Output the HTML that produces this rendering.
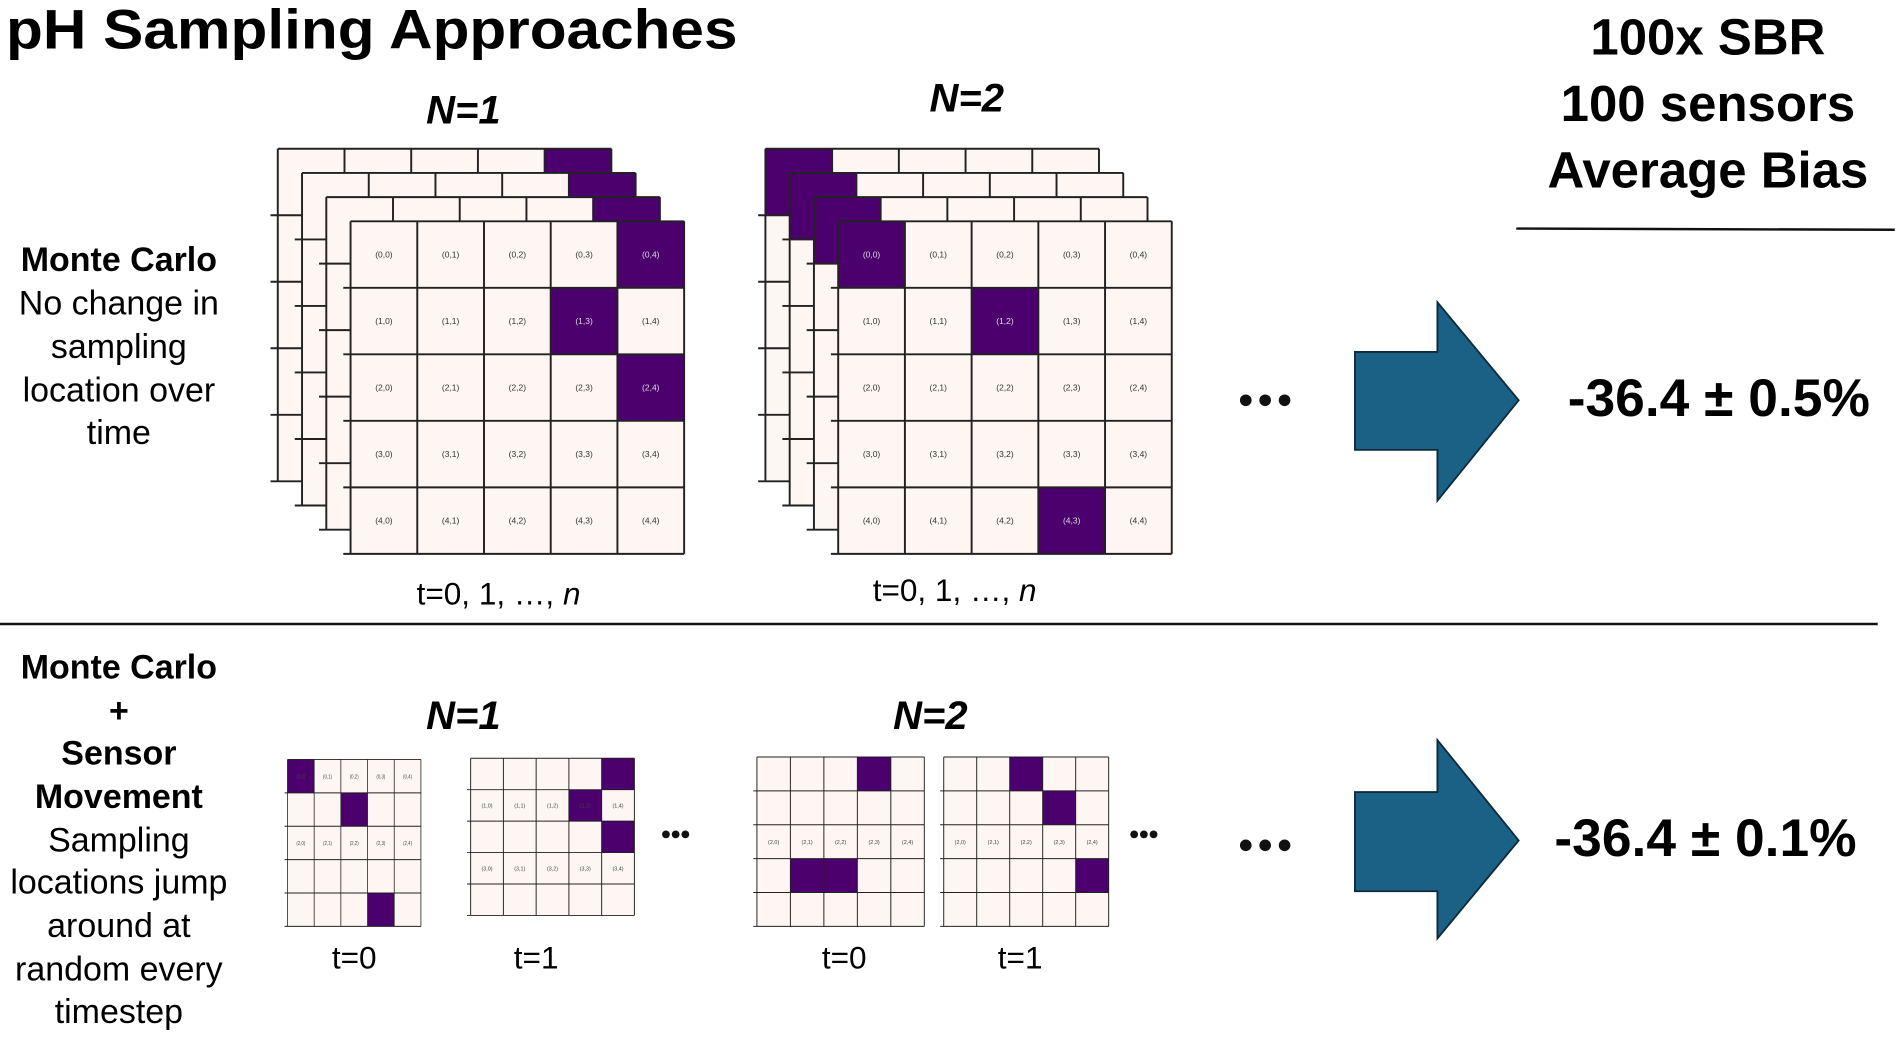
<!DOCTYPE html>
<html><head><meta charset="utf-8"><style>
html,body{margin:0;padding:0;background:#fff;width:1902px;height:1040px;overflow:hidden}
svg{display:block}
text{font-family:"Liberation Sans",sans-serif}
</style></head><body>
<svg width="1902" height="1040" viewBox="0 0 1568 860" preserveAspectRatio="none" xmlns="http://www.w3.org/2000/svg">
<defs>
<path id="gl" d="M0 0H275M0 55H275M0 110H275M0 165H275M0 220H275M0 275H275M0 0V275M55 0V275M110 0V275M165 0V275M220 0V275M275 0V275M-6 55H0M-6 110H0M-6 165H0M-6 220H0M-6 275H0" fill="none" stroke="#222" stroke-width="1.6"/>
</defs>
<rect width="1568" height="860" fill="#fff"/>
<text x="5" y="40" font-size="46" font-weight="bold" textLength="603" lengthAdjust="spacingAndGlyphs">pH Sampling Approaches</text>
<g font-size="42" font-weight="bold" text-anchor="middle">
<text x="1408" y="45">100x SBR</text>
<text x="1408" y="100">100 sensors</text>
<text x="1408" y="155">Average Bias</text>
</g>
<line x1="1250" y1="189" x2="1562" y2="190" stroke="#111" stroke-width="2"/>
<line x1="0" y1="516" x2="1548" y2="516" stroke="#111" stroke-width="2"/>
<g font-size="33" font-weight="bold" font-style="italic" text-anchor="middle">
<text x="382" y="102">N=1</text><text x="797" y="92">N=2</text>
<text x="382" y="603">N=1</text><text x="767" y="603">N=2</text>
</g>
<g font-size="28" text-anchor="middle">
<text x="98" y="224" font-weight="bold">Monte Carlo</text>
<text x="98" y="260">No change in</text>
<text x="98" y="296">sampling</text>
<text x="98" y="332">location over</text>
<text x="98" y="367">time</text>
<text x="98" y="561" font-weight="bold">Monte Carlo</text>
<text x="98" y="597" font-weight="bold">+</text>
<text x="98" y="632" font-weight="bold">Sensor</text>
<text x="98" y="668" font-weight="bold">Movement</text>
<text x="98" y="704">Sampling</text>
<text x="98" y="739">locations jump</text>
<text x="98" y="775">around at</text>
<text x="98" y="811">random every</text>
<text x="98" y="846">timestep</text>
</g>
<!-- N=1 back layers -->
<g transform="translate(229,123)"><rect width="275" height="275" fill="#fdf6f3"/><rect x="220" width="55" height="55" fill="#4b006e"/><use href="#gl"/></g>
<g transform="translate(249,143)"><rect width="275" height="275" fill="#fdf6f3"/><rect x="220" width="55" height="55" fill="#4b006e"/><use href="#gl"/></g>
<g transform="translate(269,163)"><rect width="275" height="275" fill="#fdf6f3"/><rect x="220" width="55" height="55" fill="#4b006e"/><use href="#gl"/></g>
<g transform="translate(289,183)"><rect width="275" height="275" fill="#fdf6f3"/>
<rect x="220" y="0" width="55" height="55" fill="#4b006e"/><rect x="165" y="55" width="55" height="55" fill="#4b006e"/><rect x="220" y="110" width="55" height="55" fill="#4b006e"/>
<use href="#gl"/>
<g font-size="7" text-anchor="middle" fill="#333">
<text y="30"><tspan x="27.5">(0,0)</tspan><tspan x="82.5">(0,1)</tspan><tspan x="137.5">(0,2)</tspan><tspan x="192.5">(0,3)</tspan><tspan x="247.5" fill="#ddd">(0,4)</tspan></text>
<text y="85"><tspan x="27.5">(1,0)</tspan><tspan x="82.5">(1,1)</tspan><tspan x="137.5">(1,2)</tspan><tspan x="192.5" fill="#ddd">(1,3)</tspan><tspan x="247.5">(1,4)</tspan></text>
<text y="140"><tspan x="27.5">(2,0)</tspan><tspan x="82.5">(2,1)</tspan><tspan x="137.5">(2,2)</tspan><tspan x="192.5">(2,3)</tspan><tspan x="247.5" fill="#ddd">(2,4)</tspan></text>
<text y="195"><tspan x="27.5">(3,0)</tspan><tspan x="82.5">(3,1)</tspan><tspan x="137.5">(3,2)</tspan><tspan x="192.5">(3,3)</tspan><tspan x="247.5">(3,4)</tspan></text>
<text y="250"><tspan x="27.5">(4,0)</tspan><tspan x="82.5">(4,1)</tspan><tspan x="137.5">(4,2)</tspan><tspan x="192.5">(4,3)</tspan><tspan x="247.5">(4,4)</tspan></text>
</g></g>
<!-- N=2 back layers -->
<g transform="translate(631,123)"><rect width="275" height="275" fill="#fdf6f3"/><rect width="55" height="55" fill="#4b006e"/><use href="#gl"/></g>
<g transform="translate(651,143)"><rect width="275" height="275" fill="#fdf6f3"/><rect width="55" height="55" fill="#4b006e"/><use href="#gl"/></g>
<g transform="translate(671,163)"><rect width="275" height="275" fill="#fdf6f3"/><rect width="55" height="55" fill="#4b006e"/><use href="#gl"/></g>
<g transform="translate(691,183)"><rect width="275" height="275" fill="#fdf6f3"/>
<rect x="0" y="0" width="55" height="55" fill="#4b006e"/><rect x="110" y="55" width="55" height="55" fill="#4b006e"/><rect x="165" y="220" width="55" height="55" fill="#4b006e"/>
<use href="#gl"/>
<g font-size="7" text-anchor="middle" fill="#333">
<text y="30"><tspan x="27.5" fill="#ddd">(0,0)</tspan><tspan x="82.5">(0,1)</tspan><tspan x="137.5">(0,2)</tspan><tspan x="192.5">(0,3)</tspan><tspan x="247.5">(0,4)</tspan></text>
<text y="85"><tspan x="27.5">(1,0)</tspan><tspan x="82.5">(1,1)</tspan><tspan x="137.5" fill="#ddd">(1,2)</tspan><tspan x="192.5">(1,3)</tspan><tspan x="247.5">(1,4)</tspan></text>
<text y="140"><tspan x="27.5">(2,0)</tspan><tspan x="82.5">(2,1)</tspan><tspan x="137.5">(2,2)</tspan><tspan x="192.5">(2,3)</tspan><tspan x="247.5">(2,4)</tspan></text>
<text y="195"><tspan x="27.5">(3,0)</tspan><tspan x="82.5">(3,1)</tspan><tspan x="137.5">(3,2)</tspan><tspan x="192.5">(3,3)</tspan><tspan x="247.5">(3,4)</tspan></text>
<text y="250"><tspan x="27.5">(4,0)</tspan><tspan x="82.5">(4,1)</tspan><tspan x="137.5">(4,2)</tspan><tspan x="192.5" fill="#ddd">(4,3)</tspan><tspan x="247.5">(4,4)</tspan></text>
</g></g>
<g font-size="26" text-anchor="middle">
<text x="411" y="500">t=0, 1, …, <tspan font-style="italic">n</tspan></text>
<text x="787" y="497">t=0, 1, …, <tspan font-style="italic">n</tspan></text>
<text x="292" y="801">t=0</text><text x="442" y="801">t=1</text>
<text x="696" y="801">t=0</text><text x="841" y="801">t=1</text>
</g>
<!-- small grids -->
<g transform="translate(237,628) scale(0.4,0.502)"><rect width="275" height="275" fill="#fdf6f3"/>
<rect x="0" y="0" width="55" height="55" fill="#4b006e"/><rect x="110" y="55" width="55" height="55" fill="#4b006e"/><rect x="165" y="220" width="55" height="55" fill="#4b006e"/>
<use href="#gl"/>
<g font-size="9" text-anchor="middle" fill="#444">
<text y="31"><tspan x="27.5">(0,0)</tspan><tspan x="82.5">(0,1)</tspan><tspan x="137.5">(0,2)</tspan><tspan x="192.5">(0,3)</tspan><tspan x="247.5">(0,4)</tspan></text>
<text y="141"><tspan x="27.5">(2,0)</tspan><tspan x="82.5">(2,1)</tspan><tspan x="137.5">(2,2)</tspan><tspan x="192.5">(2,3)</tspan><tspan x="247.5">(2,4)</tspan></text>
</g></g>
<g transform="translate(388,627) scale(0.4909,0.4727)"><rect width="275" height="275" fill="#fdf6f3"/>
<rect x="220" y="0" width="55" height="55" fill="#4b006e"/><rect x="165" y="55" width="55" height="55" fill="#4b006e"/><rect x="220" y="110" width="55" height="55" fill="#4b006e"/>
<use href="#gl"/>
<g font-size="9" text-anchor="middle" fill="#444">
<text y="86"><tspan x="27.5">(1,0)</tspan><tspan x="82.5">(1,1)</tspan><tspan x="137.5">(1,2)</tspan><tspan x="192.5">(1,3)</tspan><tspan x="247.5">(1,4)</tspan></text>
<text y="196"><tspan x="27.5">(3,0)</tspan><tspan x="82.5">(3,1)</tspan><tspan x="137.5">(3,2)</tspan><tspan x="192.5">(3,3)</tspan><tspan x="247.5">(3,4)</tspan></text>
</g></g>
<g transform="translate(624,626) scale(0.5018,0.5091)"><rect width="275" height="275" fill="#fdf6f3"/>
<rect x="165" y="0" width="55" height="55" fill="#4b006e"/><rect x="55" y="165" width="110" height="55" fill="#4b006e"/>
<use href="#gl"/>
<g font-size="9" text-anchor="middle" fill="#444">
<text y="141"><tspan x="27.5">(2,0)</tspan><tspan x="82.5">(2,1)</tspan><tspan x="137.5">(2,2)</tspan><tspan x="192.5">(2,3)</tspan><tspan x="247.5">(2,4)</tspan></text>
</g></g>
<g transform="translate(778,626) scale(0.4945,0.5091)"><rect width="275" height="275" fill="#fdf6f3"/>
<rect x="110" y="0" width="55" height="55" fill="#4b006e"/><rect x="165" y="55" width="55" height="55" fill="#4b006e"/><rect x="220" y="165" width="55" height="55" fill="#4b006e"/>
<use href="#gl"/>
<g font-size="9" text-anchor="middle" fill="#444">
<text y="141"><tspan x="27.5">(2,0)</tspan><tspan x="82.5">(2,1)</tspan><tspan x="137.5">(2,2)</tspan><tspan x="192.5">(2,3)</tspan><tspan x="247.5">(2,4)</tspan></text>
</g></g>
<!-- dots -->
<g fill="#111">
<circle cx="1027" cy="331" r="4.8"/><circle cx="1043" cy="331" r="4.8"/><circle cx="1059" cy="331" r="4.8"/>
<circle cx="1027" cy="699" r="4.8"/><circle cx="1043" cy="699" r="4.8"/><circle cx="1059" cy="699" r="4.8"/>
<circle cx="549" cy="690" r="3.2"/><circle cx="557" cy="690" r="3.2"/><circle cx="565" cy="690" r="3.2"/>
<circle cx="935" cy="690" r="3.2"/><circle cx="943" cy="690" r="3.2"/><circle cx="951" cy="690" r="3.2"/>
</g>
<!-- arrows -->
<polygon points="1117,291 1185,291 1185,250 1252,331 1185,414 1185,372 1117,372" fill="#1b6185" stroke="#0d2a3a" stroke-width="1.5"/>
<polygon points="1117,655 1185,655 1185,612 1252,695 1185,776 1185,737 1117,737" fill="#1b6185" stroke="#0d2a3a" stroke-width="1.5"/>
<g font-size="44" font-weight="bold" text-anchor="middle">
<text x="1417" y="344">-36.4 ± 0.5%</text>
<text x="1406" y="708">-36.4 ± 0.1%</text>
</g>
</svg>
</body></html>
